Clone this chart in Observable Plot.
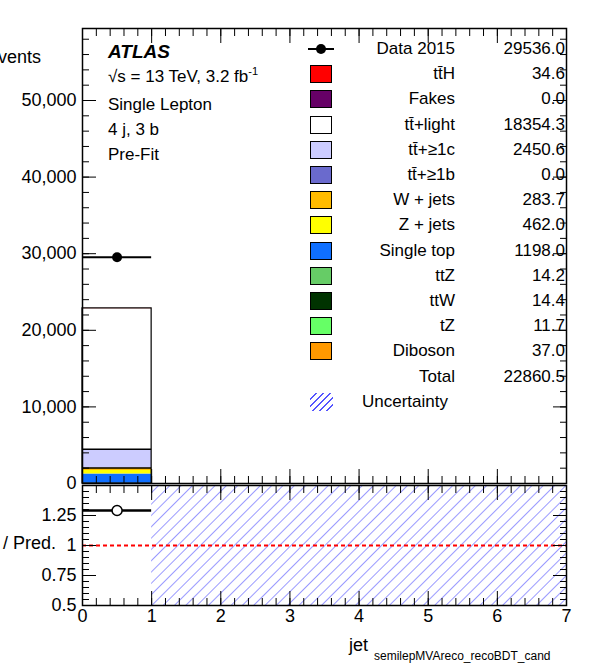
<!DOCTYPE html>
<html><head><meta charset="utf-8">
<script src="https://cdn.jsdelivr.net/npm/d3@7"></script>
<script src="https://cdn.jsdelivr.net/npm/@observablehq/plot@0.6"></script>
<style>
body{margin:0;background:#fff;font-family:"Liberation Sans",Arial,sans-serif}
#wrap{position:relative;width:596px;height:672px}
#wrap svg{position:absolute;left:0;overflow:visible}
.t{position:absolute;font-size:17px;white-space:nowrap;line-height:1}
.sw{position:absolute;width:22px;height:18px;border:1px solid #000;box-sizing:border-box}
</style></head><body>
<div id="wrap"></div>
<script>
// samples, bottom of stack first
const samples = ["tZ","ttW","ttZ","Single top","Z + jets","W + jets","Diboson","tt̄+≥1b","tt̄+≥1c","tt̄+light","Fakes","tt̄H"];
const yields  = [11.7, 14.4, 14.2, 1198.0, 462.0, 283.7, 37.0, 0.0, 2450.6, 18354.3, 0.0, 34.6];
const colors  = ["#66ff66","#003300","#66cc66","#0f6fff","#ffff00","#ffbb00","#ff9900","#6a6acd","#ccccff","#ffffff","#660066","#ff0000"];
const dataX = [0.5], dataY = [29536];
const binLo = 0, binHi = 1;
const legendNames = ["Data 2015","tt̄H","Fakes","tt̄+light","tt̄+≥1c","tt̄+≥1b","W + jets","Z + jets","Single top","ttZ","ttW","tZ","Diboson","Total","Uncertainty"];
const legendVals  = ["29536.0","34.6","0.0","18354.3","2450.6","0.0","283.7","462.0","1198.0","14.2","14.4","11.7","37.0","22860.5",""];

let cum = 0;
const stack = samples.map((s,i)=>{const y1=cum; cum+=yields[i]; return {s, y1, y2:cum, c:colors[i]};});
const total = cum;
const ratio = dataY.map(v=>v/total);

const xMaj = d3.range(0,8), xMin = d3.range(0,7.001,0.2);
const common = {width:596, marginLeft:82, marginRight:30, style:{fontFamily:"Liberation Sans, Arial", fontSize:"18px", background:"transparent", color:"#000"}};

const topChart = Plot.plot({...common, height:485, marginTop:28, marginBottom:2,
  x:{domain:[0,7]}, y:{domain:[0,59400]},
  marks:[
    Plot.rect(stack.filter(d=>d.y2>d.y1),{x1:binLo,x2:binHi,y1:"y1",y2:"y2",fill:"c"}),
    Plot.rect([total],{x1:binLo,x2:binHi,y1:0,y2:d=>d,stroke:"#000",strokeWidth:1.2,fill:"none"}),
    Plot.ruleY([stack[8].y1, stack[8].y2],{x1:binLo,x2:binHi,stroke:"#000",strokeWidth:1.5}),
    Plot.ruleY(dataY,{x1:binLo,x2:binHi,y:d=>d,stroke:"#000",strokeWidth:2}),
    Plot.dot(dataY,{x:dataX[0],y:d=>d,r:5,fill:"#000"}),
    Plot.axisY([0,10000,20000,30000,40000,50000],{anchor:"left",tickSize:-14,tickPadding:20,label:null,fontSize:18}),
    Plot.axisY(d3.range(0,59001,2000),{anchor:"left",tickSize:-7,text:null,label:null}),
    Plot.axisY(d3.range(0,59001,10000),{anchor:"right",tickSize:-14,text:null,label:null}),
    Plot.axisY(d3.range(0,59001,2000),{anchor:"right",tickSize:-7,text:null,label:null}),
    Plot.axisX(xMaj,{anchor:"bottom",tickSize:-14,text:null,label:null}),
    Plot.axisX(xMin,{anchor:"bottom",tickSize:-7,text:null,label:null}),
    Plot.axisX(xMaj,{anchor:"top",tickSize:-14,text:null,label:null}),
    Plot.axisX(xMin,{anchor:"top",tickSize:-7,text:null,label:null}),
    Plot.frame({stroke:"#000",strokeWidth:1.5})
  ]});
topChart.style.top="0px";

const botChart = Plot.plot({...common, height:187, marginTop:0, marginBottom:67,
  x:{domain:[0,7]}, y:{domain:[0.5,1.5]},
  marks:[
    Plot.rect([0],{x1:1,x2:7,y1:0.5,y2:1.5,fill:"url(#hatch)"}),
    Plot.ruleY([1],{stroke:"#ff0000",strokeWidth:2,strokeDasharray:"4,3"}),
    Plot.ruleY(ratio,{x1:binLo,x2:binHi,y:d=>d,stroke:"#000",strokeWidth:2.5}),
    Plot.dot(ratio,{x:dataX[0],y:d=>d,r:5,fill:"#fff",stroke:"#000",strokeWidth:1.5}),
    Plot.axisY([0.5,0.75,1,1.25],{anchor:"left",tickSize:-14,tickPadding:20,label:null,tickFormat:d=>String(d)}),
    Plot.axisY(d3.range(0.5,1.501,0.05),{anchor:"left",tickSize:-7,text:null,label:null}),
    Plot.axisY([0.5,0.75,1,1.25,1.5],{anchor:"right",tickSize:-14,text:null,label:null}),
    Plot.axisY(d3.range(0.5,1.501,0.05),{anchor:"right",tickSize:-7,text:null,label:null}),
    Plot.axisX(xMaj,{anchor:"bottom",tickSize:-14,tickPadding:18,label:null}),
    Plot.axisX(xMin,{anchor:"bottom",tickSize:-7,text:null,label:null}),
    Plot.axisX(xMaj,{anchor:"top",tickSize:-14,text:null,label:null}),
    Plot.axisX(xMin,{anchor:"top",tickSize:-7,text:null,label:null}),
    Plot.frame({stroke:"#000",strokeWidth:1.5})
  ]});
botChart.style.top="485px";
const defs = d3.select(botChart).insert("defs",":first-child");
const p = defs.append("pattern").attr("id","hatch").attr("patternUnits","userSpaceOnUse")
  .attr("width",8).attr("height",8).attr("patternTransform","rotate(45)");
p.append("line").attr("x1",0).attr("y1",0).attr("x2",0).attr("y2",8).attr("stroke","#5555ff").attr("stroke-width",1.2);

const wrap = document.getElementById("wrap");
wrap.append(topChart, botChart);

function txt(html, x, y, extra){const d=document.createElement("div");d.className="t";d.innerHTML=html;d.style.left=x+"px";d.style.top=y+"px";if(extra)Object.assign(d.style,extra);wrap.append(d);return d;}
txt("<b><i>ATLAS</i></b>",108,42,{fontSize:"19px"});
txt("√s = 13 TeV, 3.2 fb<sup style='font-size:11px'>-1</sup>",108,66);
txt("Single Lepton",108,96);
txt("4 j, 3 b",108,121);
txt("Pre-Fit",108,146);
txt("Events",-14,48,{transform:"rotate(-90)",fontSize:"18px",transformOrigin:"center"});
txt("Data / Pred.",-40,534,{transform:"rotate(-90)",fontSize:"18px"});
txt("jet",349,636,{fontSize:"18px"});
txt("semilepMVAreco_recoBDT_cand",374,650,{fontSize:"12px"});

legendNames.forEach((n,i)=>{
  const y = 40 + i*25.2;
  if(i===0){
    const s=document.createElement("div");s.style.cssText=`position:absolute;left:308px;top:${y+8}px;width:26px;height:2px;background:#000`;wrap.append(s);
    const c=document.createElement("div");c.style.cssText=`position:absolute;left:316px;top:${y+4}px;width:10px;height:10px;border-radius:5px;background:#000`;wrap.append(c);
  } else if(n==="Uncertainty"){
    const s=document.createElement("div");s.style.cssText=`position:absolute;left:310px;top:${y}px;width:23px;height:18px;background:repeating-linear-gradient(135deg,transparent 0 4px,#5555ff 4px 5px)`;wrap.append(s);
  } else if(n!=="Total"){
    const c = colors[samples.indexOf(n)];
    const s=document.createElement("div");s.className="sw";s.style.left="310px";s.style.top=y+"px";s.style.background=c;wrap.append(s);
  }
  if(n==="Uncertainty") txt(n,362,y);
  else txt(n,0,y,{width:"455px",textAlign:"right"});
  if(legendVals[i]) txt(legendVals[i],0,y,{width:"565px",textAlign:"right"});
});
</script></body></html>
